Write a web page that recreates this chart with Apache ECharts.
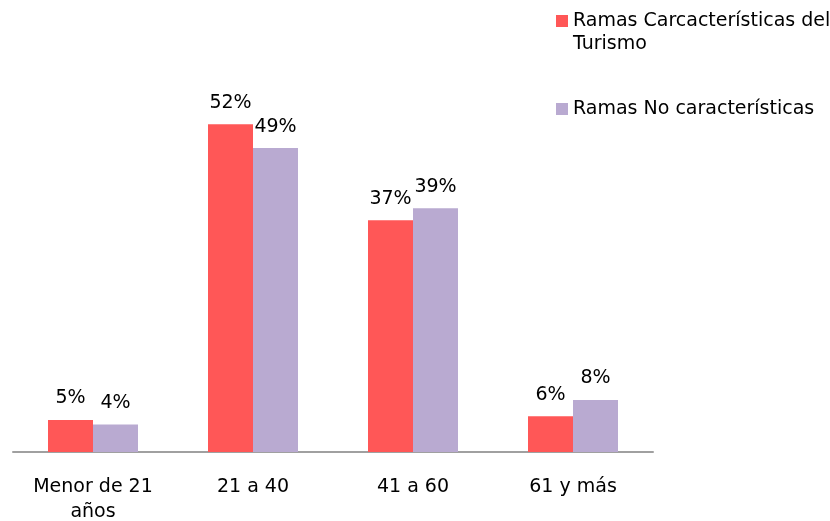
<!DOCTYPE html>
<html>
<head>
<meta charset="utf-8">
<script src="https://cdn.jsdelivr.net/npm/echarts@6/dist/echarts.min.js"></script>
<style>
  html, body { margin: 0; padding: 0; background: #fff; }
  #main { width: 830px; height: 521px; }
</style>
</head>
<body>
<div id="main"></div>
<script>
// datos
const categories = ['Menor de 21\naños', '21 a 40', '41 a 60', '61 y más']
const turismo = [5.1, 52.3, 37.0, 5.7]
const noTurismo = [4.4, 48.5, 38.9, 8.3]

const nameTurismo = 'Ramas Carcacterísticas del Turismo'
const nameNo = 'Ramas No características'

const font = 'DejaVu Sans'

var myChart = echarts.init(document.getElementById('main'))

const labelTop = {
  show: true,
  position: 'top',
  distance: 12,
  color: '#000',
  fontFamily: font,
  fontSize: 19,
  formatter: (p) => Math.round(p.value) + '%'
}

var option = {
  animation: false,
  legend: [
    {
      data: [nameTurismo],
      left: 556,
      top: -13.5,
      padding: 0,
      icon: 'rect',
      itemWidth: 12,
      itemHeight: 12,
      selectedMode: false,
      textStyle: {
        color: '#000',
        fontFamily: font,
        fontSize: 19,
        lineHeight: 23
      },
      // línea vacía arriba para que el marcador quede junto a la primera línea
      formatter: () => ' \nRamas Carcacterísticas del\nTurismo'
    },
    {
      data: [nameNo],
      left: 556,
      top: 97.5,
      padding: 0,
      icon: 'rect',
      itemWidth: 12,
      itemHeight: 12,
      selectedMode: false,
      textStyle: {
        color: '#000',
        fontFamily: font,
        fontSize: 19,
        lineHeight: 23
      }
    }
  ],
  grid: {
    left: 13,
    right: 177,
    top: 76,
    bottom: 69,
    outerBoundsMode: 'none'
  },
  xAxis: {
    type: 'category',
    data: categories,
    axisLine: { lineStyle: { color: '#a0a0a0', width: 2 } },
    axisTick: { show: false },
    axisLabel: {
      color: '#000',
      fontFamily: font,
      fontSize: 19,
      lineHeight: 25,
      margin: 23
    }
  },
  yAxis: {
    type: 'value',
    min: 0,
    max: 60,
    show: false,
    splitLine: { show: false }
  },
  series: [
    {
      name: nameTurismo,
      type: 'bar',
      data: turismo,
      barWidth: 45,
      barGap: '0%',
      itemStyle: { color: '#ff5757' },
      label: labelTop
    },
    {
      name: nameNo,
      type: 'bar',
      data: noTurismo,
      barWidth: 45,
      itemStyle: { color: '#b9aad1' },
      label: labelTop
    }
  ]
}

myChart.setOption(option)
window.addEventListener('resize', () => {
  myChart.resize()
})
</script>
</body>
</html>
